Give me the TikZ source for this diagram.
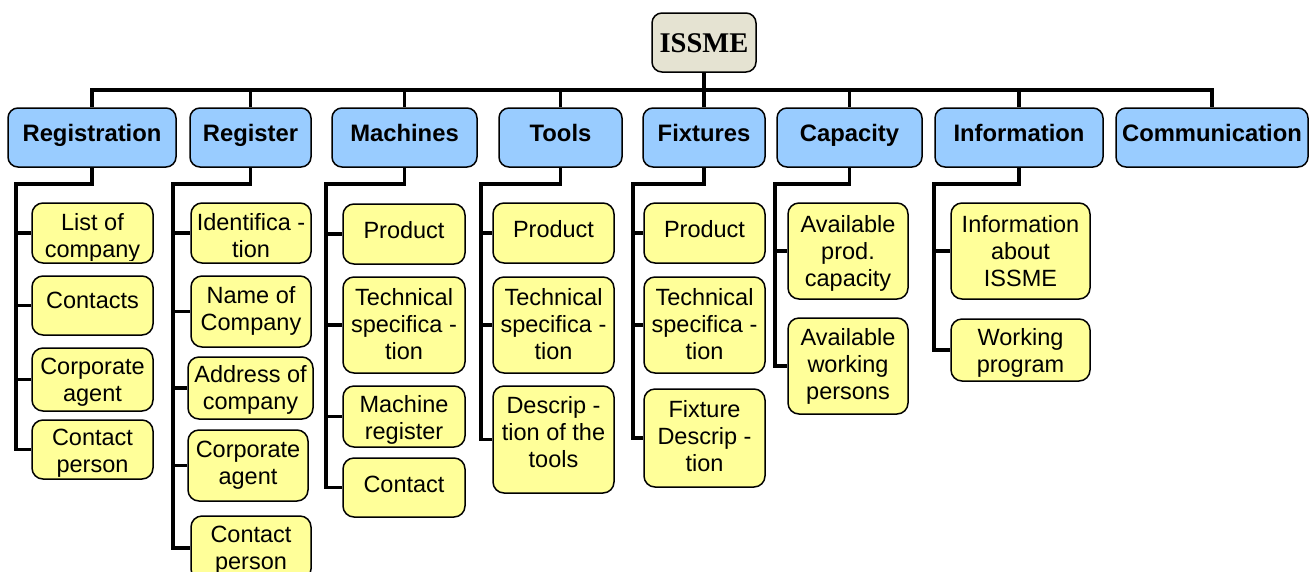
\documentclass[tikz,border=0pt]{standalone}
\usepackage{fontspec}
\setmainfont{Liberation Serif}
\newfontfamily\arialf{Liberation Sans}
\definecolor{hdrblue}{RGB}{153,204,255}
\definecolor{kidyellow}{RGB}{255,255,153}
\definecolor{rootbeige}{RGB}{229,227,210}
% #1 style, #2 name, #3 x1, #4 y1, #5 x2, #6 y2, #7 first baseline, #8 text
\newcommand\bx[8]{%
  \node[#1, minimum width={(#5)-(#3)}, minimum height={(#6)-(#4)}] (#2) at ({((#3)+(#5))/2},{((#4)+(#6))/2}) {};
  \begin{scope}
    \clip ({(#3)+2},{(#4)+2}) rectangle ({(#5)-2},{(#6)-3});
    \node[#1txt, anchor=north] (#2t) at ({((#3)+(#5))/2},{(#7)-20}) {\rule{0pt}{20pt}#8};
  \end{scope}}
\begin{document}
\begin{tikzpicture}[x=1pt,y=-1pt,
  conn/.style={line width=3.9pt, line join=miter},
  kid/.style={draw=black, line width=1.5pt, fill=kidyellow, rounded corners=11pt, inner sep=0pt},
  kidtxt/.style={inner sep=0pt, align=center, font=\arialf\fontsize{23.5}{27}\selectfont},
  hdr/.style={draw=black, line width=1.5pt, fill=hdrblue, rounded corners=10pt, inner sep=0pt},
  hdrtxt/.style={inner sep=0pt, align=center, font=\arialf\bfseries\fontsize{23.8}{27}\selectfont},
  rootbox/.style={draw=black, line width=1.5pt, fill=rootbeige, rounded corners=10pt, inner sep=0pt},
  rootboxtxt/.style={inner sep=0pt, align=center, font=\bfseries\fontsize{28.5}{33}\selectfont}]
\useasboundingbox (0,0) rectangle (1313,571);
\clip (0,0) rectangle (1313,571);

% root
\bx{rootbox}{issme}{652}{13}{756}{72}{52}{ISSME}

% headers
\bx{hdr}{registration}{8}{108}{176}{167}{141.5}{Registration}
\bx{hdr}{register}{190}{108}{311}{167}{141.5}{Register}
\bx{hdr}{machines}{332}{108}{477}{167}{141.5}{Machines}
\bx{hdr}{tools}{499}{108}{622}{167}{141.5}{Tools}
\bx{hdr}{fixtures}{643}{108}{765}{167}{141.5}{Fixtures}
\bx{hdr}{capacity}{777}{108}{922}{167}{141.5}{Capacity}
\bx{hdr}{information}{935}{108}{1103}{167}{141.5}{Information}
\bx{hdr}{communication}{1116}{108}{1308}{167}{141.5}{Communication}

% Registration children
\bx{kid}{rc1}{32}{203}{153}{263}{230}{List of\\company}
\bx{kid}{rc2}{32}{276}{153}{335}{308}{Contacts}
\bx{kid}{rc3}{32}{348}{153}{411}{374}{Corporate\\agent}
\bx{kid}{rc4}{32}{420}{153}{479}{445}{Contact\\person}

% Register children
\bx{kid}{gc1}{191}{203}{311}{263}{230}{Identifica -\\tion}
\bx{kid}{gc2}{191}{276}{311}{347}{303}{Name of\\Company}
\bx{kid}{gc3}{188}{357}{313}{419}{382}{Address of\\company}
\bx{kid}{gc4}{188}{430}{308}{501}{457}{Corporate\\agent}
\bx{kid}{gc5}{191}{516}{311}{580}{542}{Contact\\person}

% Machines children
\bx{kid}{mc1}{343}{204}{465}{264}{238}{Product}
\bx{kid}{mc2}{343}{277}{465}{373}{305}{Technical\\specifica -\\tion}
\bx{kid}{mc3}{343}{386}{465}{447}{412}{Machine\\register}
\bx{kid}{mc4}{343}{458}{465}{517}{492}{Contact}

% Tools children
\bx{kid}{tc1}{493}{203}{614}{263}{237}{Product}
\bx{kid}{tc2}{493}{277}{614}{373}{305}{Technical\\specifica -\\tion}
\bx{kid}{tc3}{493}{386}{614}{493}{413}{Descrip -\\tion of the\\tools}

% Fixtures children
\bx{kid}{fc1}{644}{203}{765}{263}{237}{Product}
\bx{kid}{fc2}{644}{277}{765}{373}{305}{Technical\\specifica -\\tion}
\bx{kid}{fc3}{644}{389}{765}{487}{417}{Fixture\\Descrip -\\tion}

% Capacity children
\bx{kid}{cc1}{788}{203}{908}{299}{232}{Available\\prod.\\capacity}
\bx{kid}{cc2}{788}{318}{908}{414}{345}{Available\\working\\persons}

% Information children
\bx{kid}{ic1}{951}{203}{1090}{299}{232}{Information\\about\\ISSME}
\bx{kid}{ic2}{951}{319}{1090}{381}{345}{Working\\program}

% bus
\coordinate (bus) at (704,90);
\draw[conn] (registration.north) -- (registration.north |- bus) -- (communication.north |- bus) -- (communication.north);
\foreach \h in {register,machines,tools,fixtures,capacity,information}
  \draw[conn] (\h.north |- bus) -- (\h.north);
\draw[conn] (issme.south) -- (issme.south |- bus);

% spines
\coordinate (regS) at (16,184);
\coordinate (rgsS) at (173,184);
\coordinate (macS) at (326,184);
\coordinate (tooS) at (481,184);
\coordinate (fixS) at (633,184);
\coordinate (capS) at (775,184);
\coordinate (infS) at (934,184);

\draw[conn] (registration.south) |- (regS) -- (regS |- rc4.west) -- (rc4.west);
\foreach \k in {rc1,rc2,rc3} \draw[conn] (regS |- \k.west) -- (\k.west);

\draw[conn] (register.south) |- (rgsS) -- (rgsS |- gc5.west) -- (gc5.west);
\foreach \k in {gc1,gc2,gc3,gc4} \draw[conn] (rgsS |- \k.west) -- (\k.west);

\draw[conn] (machines.south) |- (macS) -- (macS |- mc4.west) -- (mc4.west);
\foreach \k in {mc1,mc2,mc3} \draw[conn] (macS |- \k.west) -- (\k.west);

\draw[conn] (tools.south) |- (tooS) -- (tooS |- tc3.west) -- (tc3.west);
\foreach \k in {tc1,tc2} \draw[conn] (tooS |- \k.west) -- (\k.west);

\draw[conn] (fixtures.south) |- (fixS) -- (fixS |- fc3.west) -- (fc3.west);
\foreach \k in {fc1,fc2} \draw[conn] (fixS |- \k.west) -- (\k.west);

\draw[conn] (capacity.south) |- (capS) -- (capS |- cc2.west) -- (cc2.west);
\draw[conn] (capS |- cc1.west) -- (cc1.west);

\draw[conn] (information.south) |- (infS) -- (infS |- ic2.west) -- (ic2.west);
\draw[conn] (infS |- ic1.west) -- (ic1.west);
\end{tikzpicture}
\end{document}
